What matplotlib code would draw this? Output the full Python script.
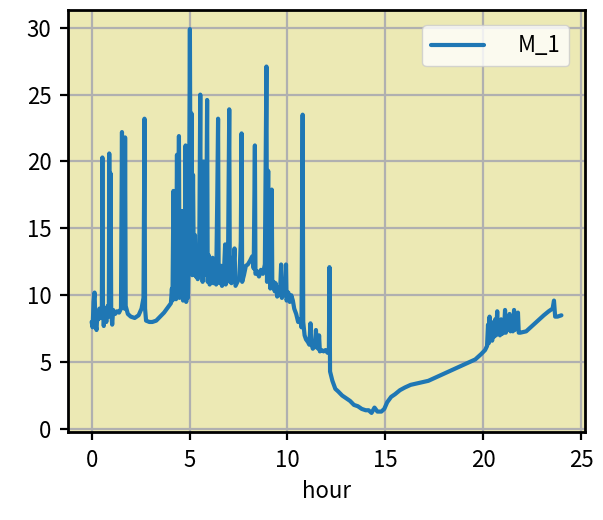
import matplotlib
matplotlib.use('Agg')
import matplotlib.pyplot as plt

plt.rcParams['font.family'] = ['Noto Sans CJK JP', 'DejaVu Sans']

# readings (hour, M_1)
hour = [
    0.00, 0.05, 0.10, 0.15, 0.20, 0.25, 0.30, 0.35, 0.40, 0.45,
    0.52, 0.55, 0.58, 0.62, 0.68, 0.75, 0.82, 0.88, 0.90, 0.93,
    0.97, 1.00, 1.05, 1.10, 1.20, 1.30, 1.40, 1.50, 1.55, 1.58,
    1.68, 1.71, 1.74, 1.85, 2.00, 2.20, 2.40, 2.55, 2.65, 2.70,
    2.73, 2.78, 2.95, 3.10, 3.30, 3.50, 3.70, 3.90, 4.05, 4.10,
    4.13, 4.18, 4.21, 4.28, 4.31, 4.36, 4.40, 4.46, 4.49, 4.55,
    4.58, 4.64, 4.67, 4.73, 4.76, 4.80, 4.83, 4.88, 4.92, 4.97,
    5.02, 5.06, 5.10, 5.14, 5.18, 5.22, 5.28, 5.32, 5.38, 5.42,
    5.50, 5.55, 5.58, 5.63, 5.67, 5.72, 5.76, 5.85, 5.90, 5.93,
    5.98, 6.03, 6.10, 6.18, 6.22, 6.30, 6.36, 6.42, 6.46, 6.49,
    6.55, 6.62, 6.66, 6.74, 6.82, 6.85, 6.92, 6.97, 7.03, 7.06,
    7.10, 7.14, 7.22, 7.30, 7.35, 7.45, 7.55, 7.62, 7.66, 7.69,
    7.78, 7.88, 7.98, 8.10, 8.20, 8.28, 8.34, 8.37, 8.45, 8.55,
    8.65, 8.75, 8.85, 8.93, 8.96, 9.02, 9.05, 9.10, 9.13, 9.20,
    9.23, 9.30, 9.35, 9.40, 9.48, 9.55, 9.62, 9.68, 9.72, 9.80,
    9.88, 9.93, 9.96, 10.05, 10.12, 10.20, 10.28, 10.35, 10.45, 10.55,
    10.65, 10.72, 10.78, 10.81, 10.88, 10.95, 11.05, 11.12, 11.18, 11.22,
    11.30, 11.40, 11.46, 11.50, 11.58, 11.62, 11.66, 11.75, 11.85, 11.95,
    12.05, 12.12, 12.15, 12.18, 12.30, 12.45, 12.60, 12.80, 13.00, 13.20,
    13.40, 13.60, 13.80, 14.00, 14.15, 14.30, 14.45, 14.60, 14.80, 14.95,
    15.10, 15.30, 15.50, 15.75, 16.00, 16.30, 16.60, 16.90, 17.20, 17.50,
    17.80, 18.10, 18.40, 18.70, 19.00, 19.30, 19.60, 19.90, 20.10, 20.20,
    20.25, 20.28, 20.33, 20.37, 20.42, 20.46, 20.52, 20.56, 20.62, 20.66,
    20.72, 20.76, 20.82, 20.86, 20.92, 20.96, 21.02, 21.06, 21.12, 21.16,
    21.22, 21.26, 21.35, 21.40, 21.48, 21.52, 21.58, 21.62, 21.70, 21.78,
    21.82, 21.90, 22.20, 22.50, 22.80, 23.10, 23.35, 23.55, 23.62, 23.68,
    23.80, 24.00,
]
m_1 = [
    8.0, 7.6, 9.5, 10.2, 7.8, 7.4, 8.8, 8.2, 9.0, 8.3,
    8.6, 20.3, 8.8, 7.7, 9.0, 8.0, 9.2, 8.4, 20.6, 9.0,
    19.1, 8.8, 7.8, 8.9, 8.6, 8.8, 8.7, 9.0, 22.2, 9.4,
    9.0, 21.8, 9.2, 8.6, 8.4, 8.3, 8.5, 9.0, 9.8, 23.2,
    9.0, 8.1, 8.0, 8.0, 8.1, 8.4, 8.7, 9.1, 9.4, 10.5,
    9.6, 17.8, 10.0, 12.5, 9.7, 20.5, 10.0, 21.9, 9.8, 15.0,
    10.5, 16.3, 9.6, 13.0, 9.8, 21.2, 9.5, 10.8, 9.8, 14.0,
    29.9, 12.5, 23.6, 11.5, 19.0, 12.0, 14.5, 11.4, 13.0, 11.2,
    13.5, 25.0, 12.0, 14.2, 11.0, 20.0, 11.5, 13.2, 24.6, 11.0,
    13.0, 10.8, 11.3, 12.8, 10.9, 11.5, 10.8, 17.5, 23.2, 11.2,
    10.9, 12.2, 10.7, 11.0, 13.8, 10.8, 11.5, 13.0, 23.9, 11.0,
    12.8, 10.9, 11.5, 13.5, 10.7, 11.0, 11.3, 14.0, 22.1, 11.0,
    11.5, 12.2, 12.3, 12.6, 12.9, 12.0, 21.2, 11.6, 11.8, 11.4,
    11.9, 11.6, 12.3, 27.1, 11.0, 19.3, 11.2, 13.5, 10.5, 17.9,
    10.8, 11.0, 10.3, 10.9, 9.9, 10.6, 10.0, 12.3, 9.8, 10.2,
    10.0, 12.3, 9.6, 10.2, 9.5, 10.0, 9.6, 9.0, 8.6, 8.0,
    8.2, 7.6, 23.5, 8.0, 7.0, 6.7, 6.5, 6.3, 7.9, 6.4,
    6.0, 6.2, 7.4, 6.1, 6.0, 7.0, 5.8, 5.9, 5.8, 5.9,
    5.7, 5.8, 12.1, 4.3, 3.6, 3.0, 2.8, 2.5, 2.3, 2.1,
    1.8, 1.7, 1.5, 1.4, 1.4, 1.2, 1.6, 1.3, 1.3, 1.5,
    2.0, 2.4, 2.6, 2.9, 3.1, 3.3, 3.4, 3.5, 3.6, 3.8,
    4.0, 4.2, 4.4, 4.6, 4.8, 5.0, 5.2, 5.6, 5.9, 6.2,
    7.8, 6.4, 8.4, 6.8, 8.0, 6.6, 7.5, 6.9, 8.2, 7.0,
    8.8, 7.1, 7.8, 7.0, 8.2, 7.1, 8.0, 7.2, 8.9, 7.2,
    8.3, 7.4, 8.6, 7.3, 7.9, 7.3, 8.9, 7.4, 7.6, 8.7,
    7.2, 7.2, 7.3, 7.7, 8.1, 8.5, 8.8, 9.0, 9.6, 8.4,
    8.4, 8.5,
]

fig = plt.figure(figsize=(6.03, 5.2), dpi=100)
ax = fig.add_axes([0.113, 0.169, 0.857, 0.812])
ax.set_facecolor('#ECE9B4')

ax.plot(hour, m_1, color='#1f77b4', lw=3.0, label='M_1',
        solid_joinstyle='round', solid_capstyle='round')

ax.grid(True, color='#b0b0b0', lw=1.6)
ax.set_axisbelow(True)
for s in ax.spines.values():
    s.set_linewidth(2)
ax.tick_params(labelsize=16, width=1.6, length=6, pad=6)
ax.set_xticks([0, 5, 10, 15, 20, 25])
ax.set_yticks([0, 5, 10, 15, 20, 25, 30])
ax.set_xlabel('hour', fontsize=16, labelpad=6)

ax.legend(loc='upper right', fontsize=16, handlelength=2.4,
          handletextpad=1.5, borderaxespad=0.7)

fig.savefig('out.png', dpi=100)
